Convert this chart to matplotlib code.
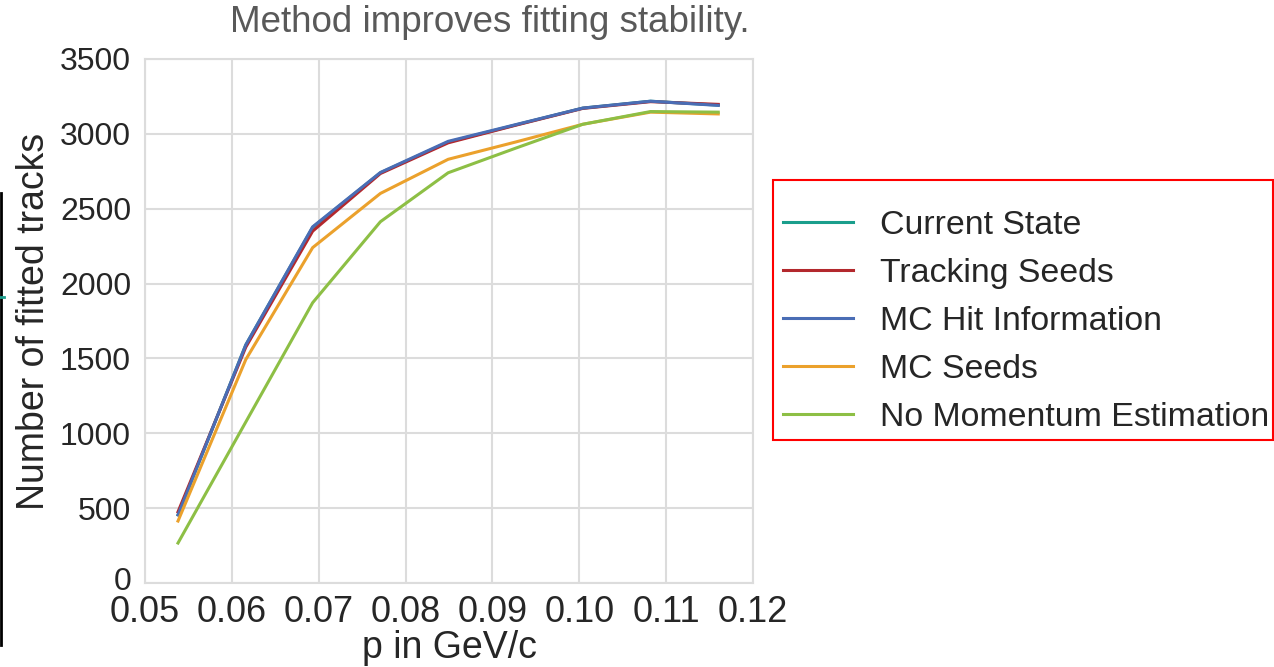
import matplotlib.pyplot as plt
import matplotlib.transforms as mtransforms
from matplotlib.lines import Line2D
from matplotlib.patches import Rectangle

plt.rcParams['font.family'] = ['Liberation Sans', 'DejaVu Sans']

# momentum bins (GeV/c)
p = [0.0538, 0.0616, 0.0693, 0.0771, 0.0849, 0.0927, 0.1004, 0.1082, 0.1160]

current_state = [455, 1590, 2375, 2740, 2945, 3060, 3172, 3218, 3192]
tracking_seeds = [475, 1575, 2350, 2735, 2940, 3058, 3170, 3215, 3197]
mc_hit_info = [455, 1590, 2379, 2742, 2950, 3062, 3172, 3218, 3190]
mc_seeds = [414, 1492, 2240, 2602, 2830, 2946, 3064, 3145, 3133]
no_momentum = [267, 1075, 1872, 2413, 2740, 2905, 3064, 3149, 3145]

names = ['Current State', 'Tracking Seeds', 'MC Hit Information',
         'MC Seeds', 'No Momentum Estimation']
series = [current_state, tracking_seeds, mc_hit_info, mc_seeds, no_momentum]
colors = ['#1a9e8c', '#b3282d', '#4a6db5', '#eba12c', '#8dbf45']

W, H = 1274, 667
fig = plt.figure(figsize=(W / 100, H / 100), dpi=100)
ax = fig.add_axes([145 / W, 1 - 583 / H, (753 - 145) / W, (583 - 59) / H])

for name, vals, c in zip(names, series, colors):
    ax.plot(p, vals, color=c, lw=2.2, label=name)

ax.set_xlim(0.05, 0.12)
ax.set_ylim(0, 3500)
ax.set_xticks([0.05, 0.06, 0.07, 0.08, 0.09, 0.10, 0.11, 0.12])
ax.set_xticklabels(['0.05', '0.06', '0.07', '0.08', '0.09', '0.10', '0.11', '0.12'])
ax.set_yticks(range(0, 3501, 500))
ax.tick_params(axis='x', labelsize=26, colors='#262626', length=0, pad=9)
ax.tick_params(axis='y', labelsize=23, colors='#262626', length=0, pad=10)
ax.grid(True, color='#dcdcdc', lw=1.5)
ax.set_axisbelow(True)
for s in ax.spines.values():
    s.set_color('#dcdcdc')
    s.set_linewidth(1.5)

# the "0" label sits a little above its grid line in the original
zero_lab = ax.get_yticklabels()[0]
zero_lab.set_transform(zero_lab.get_transform() +
                       mtransforms.ScaledTranslation(0, 5 / 100, fig.dpi_scale_trans))

ax.set_xlabel('p in GeV/c', fontsize=27, color='#262626', labelpad=0)
ax.set_ylabel('Number of fitted tracks', fontsize=27, color='#262626', labelpad=6)
fig.text(490 / W, 1 - 22 / H, 'Method improves fitting stability.',
         fontsize=26.5, color='#595959', ha='center', va='center')

leg = ax.legend(loc='upper left', bbox_to_anchor=(783 / W, 1 - 210 / H),
                bbox_transform=fig.transFigure, fontsize=24.4, frameon=False,
                handlelength=2.06, handletextpad=0.8,
                labelspacing=0.5, borderaxespad=0, borderpad=0)
for t in leg.get_texts():
    t.set_color('#262626')

# red box drawn around the legend
fig.add_artist(Rectangle((773 / W, 1 - 440 / H), 500 / W, 260 / H,
                         transform=fig.transFigure, fill=False,
                         edgecolor='#ff0000', lw=1.5))

# slide edge artefacts on the left border
fig.add_artist(Line2D([1.5 / W, 1.5 / W], [1 - 193 / H, 1 - 645 / H],
                      transform=fig.transFigure, color='black', lw=2))
fig.add_artist(Line2D([0, 4 / W], [1 - 297 / H, 1 - 297 / H],
                      transform=fig.transFigure, color='#1a9e8c', lw=2))

fig.savefig('out.png', dpi=100)
